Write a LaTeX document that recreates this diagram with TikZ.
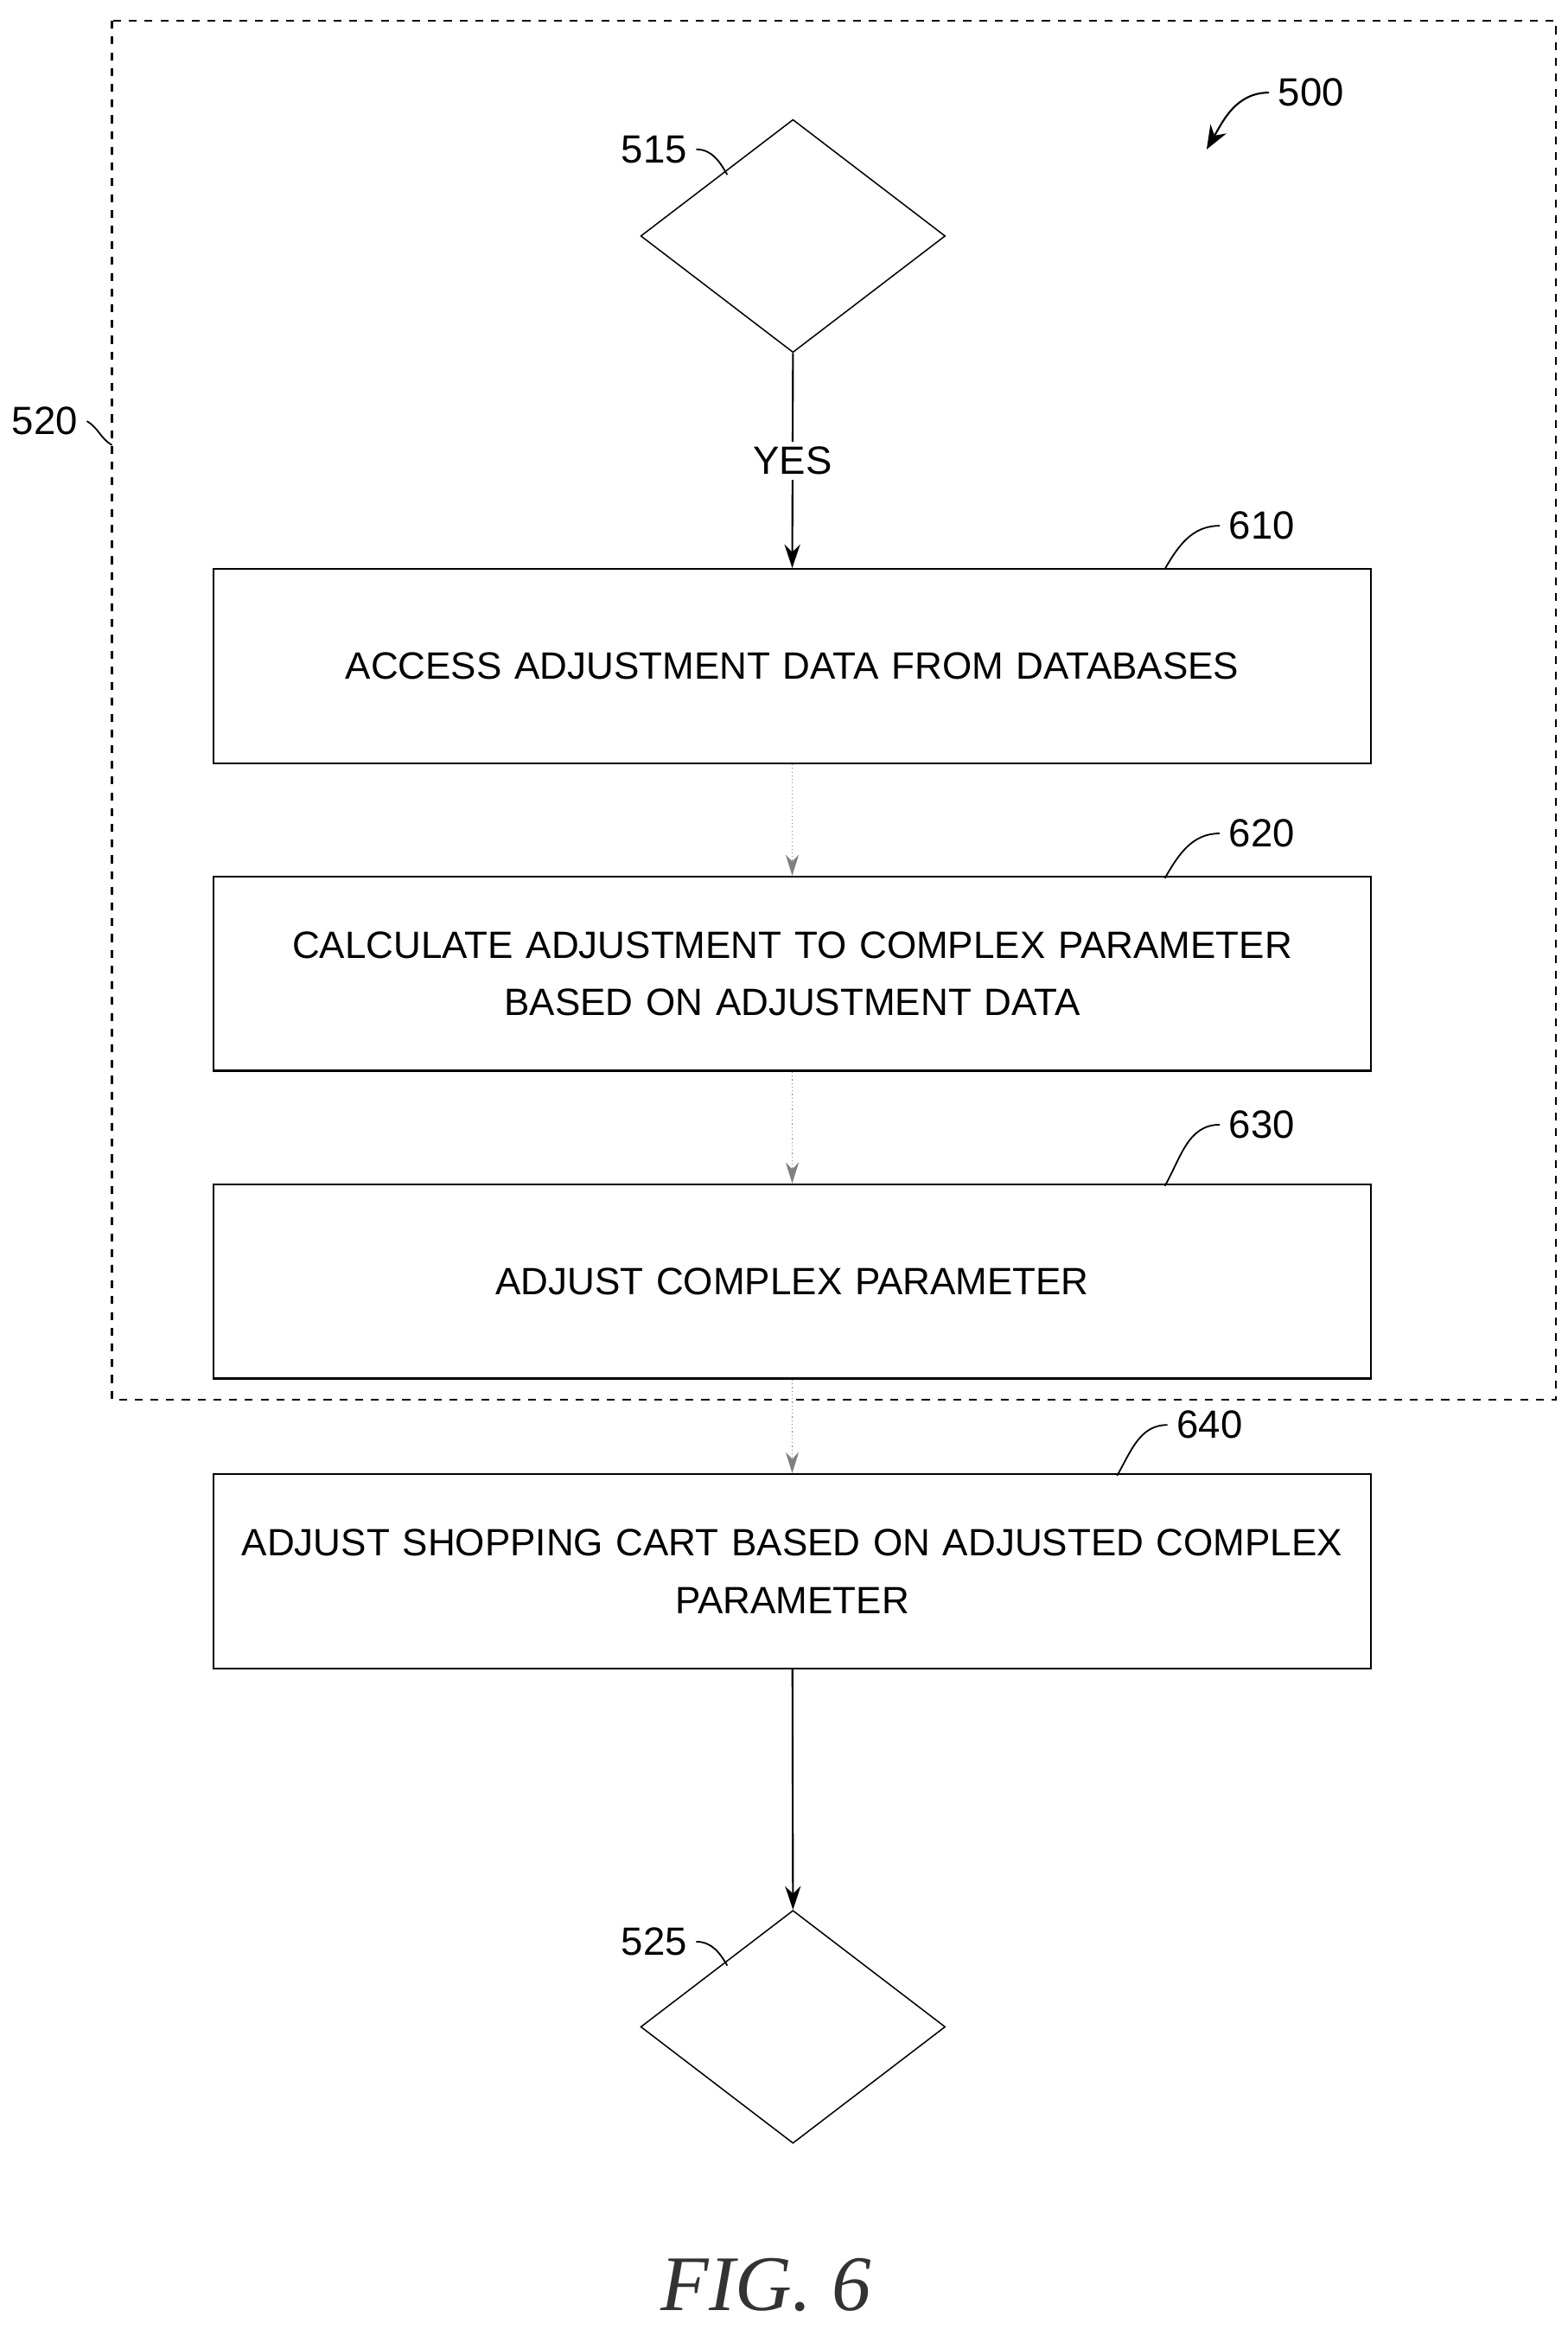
\documentclass[tikz,border=0pt]{standalone}
\usepackage{fontspec}
\setmainfont{Liberation Sans}
\newfontfamily\capfont{Liberation Serif}
\usetikzlibrary{shapes.geometric,arrows.meta}

\begin{document}
\begin{tikzpicture}[
			x=0.02cm, y=-0.02cm,
			stepbox/.style={rectangle, draw, line width=0.8pt, minimum width=15.5cm, minimum height=2.6cm, text width=15.1cm, align=center, inner sep=2pt, font=\fontsize{14.5}{22}\selectfont},
			dec/.style={diamond, draw, line width=0.5pt, minimum width=4.08cm, minimum height=3.12cm, inner sep=0pt, aspect=1.3},
			ref/.style={font=\fontsize{15}{18}\selectfont},
			flow/.style={-{Stealth[length=9pt,width=6pt]}, line width=0.7pt},
			thin flow/.style={-{Stealth[length=8pt,width=5pt]}, line width=0.4pt, gray, densely dotted}
			]
			
			\useasboundingbox (0,0) rectangle (1050,1564);
			
			% Outer dashed region
			\draw[dashed, line width=0.8pt] (75,14) rectangle (1042,937);
			
			% Decisions
			\node[dec] (d515) at (531,158) {};
			\node[dec] (d525) at (531,1357) {};
			
			% Steps
			\node[stepbox] (s610) at (530.5,446) {ACCESS ADJUSTMENT DATA FROM DATABASES};
			\node[stepbox] (s620) at (530.5,652) {CALCULATE ADJUSTMENT TO COMPLEX PARAMETER\\BASED ON ADJUSTMENT DATA};
			\node[stepbox] (s630) at (530.5,858) {ADJUST COMPLEX PARAMETER};
			\node[stepbox] (s640) at (530.5,1052) {ADJUST SHOPPING CART BASED ON ADJUSTED COMPLEX\\PARAMETER};
			
			% Flow
			\draw[flow] (d515.south) -- node[fill=white, ref, inner sep=2pt] {YES} (s610.north);
			\draw[thin flow] (s610) -- (s620);
			\draw[thin flow] (s620) -- (s630);
			\draw[thin flow] (s630) -- (s640);
			\draw[flow] (s640) -- (d525.north);
			
			% Reference numerals
			\node[ref] (n500) at (878,62) {500};
			\node[ref] (n515) at (438,100) {515};
			\node[ref] (n520) at (30,282) {520};
			\node[ref] (n525) at (438,1300) {525};
			\node[ref] (n610) at (845,352) {610};
			\node[ref] (n620) at (845,558) {620};
			\node[ref] (n630) at (845,753) {630};
			\node[ref] (n640) at (810,954) {640};
			
			\coordinate (c515) at (487,117);
			\coordinate (c520) at (75,298);
			\coordinate (c525) at (487,1316);
			\coordinate (c610) at (780,381);
			\coordinate (c620) at (780,588);
			\coordinate (c630) at (780,794);
			\coordinate (c640) at (748,988);
			
			\draw[line width=0.6pt] (n515.east) to[out=0, in=120] (c515);
			\draw[line width=0.6pt] (n525.east) to[out=0, in=120] (c525);
			\draw[line width=0.6pt] (n520.east) to[out=-30, in=150] (c520);
			\draw[line width=0.6pt] (n610.west) to[out=180, in=60] (c610);
			\draw[line width=0.6pt] (n620.west) to[out=180, in=60] (c620);
			\draw[line width=0.6pt] (n630.west) to[out=180, in=60] (c630);
			\draw[line width=0.6pt] (n640.west) to[out=180, in=60] (c640);
			\draw[-{Stealth[length=9pt,width=7pt]}, line width=0.7pt] (n500.west) to[out=180, in=60] (808,100);
			
			% Figure caption
			\node[font=\capfont\fontsize{30}{34}\selectfont\itshape, text=black!80] (fig) at (513,1530) {FIG. 6};
			
		\end{tikzpicture}
\end{document}
